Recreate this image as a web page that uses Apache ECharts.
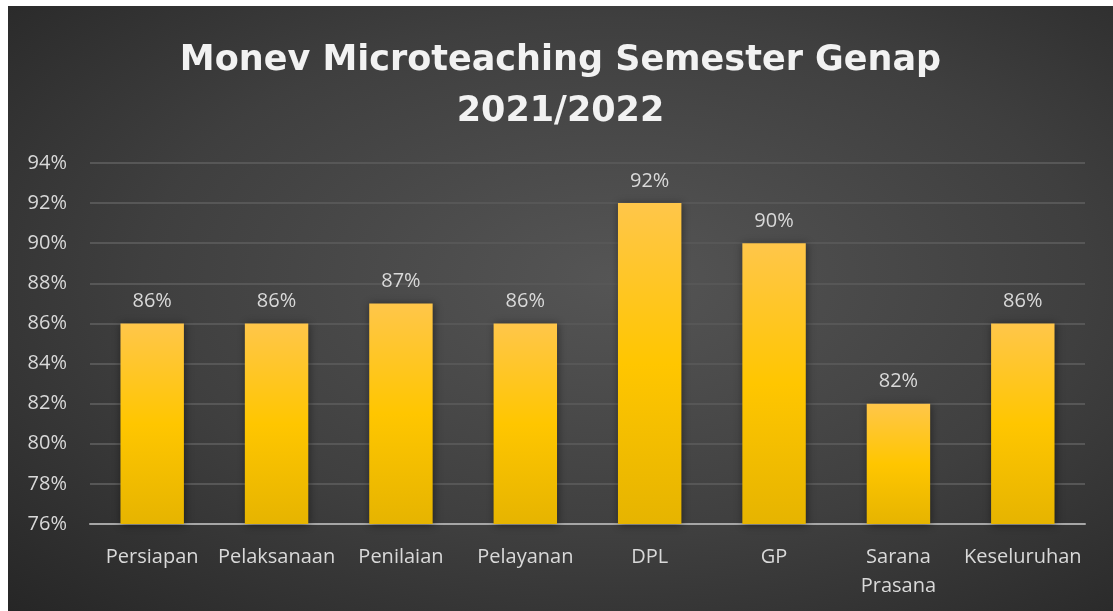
<!DOCTYPE html>
<html>
<head>
<meta charset="utf-8">
<script src="https://cdn.jsdelivr.net/npm/echarts@6/dist/echarts.min.js"></script>
<style>
  html, body { margin: 0; padding: 0; background: #ffffff; }
  #chart {
    position: absolute; left: 8px; top: 6px; width: 1105px; height: 605px;
    background: radial-gradient(ellipse at 55% 45%, #555555 0%, #3f3f3f 55%, #262626 100%);
  }
</style>
</head>
<body>
<div id="chart"></div>
<script>
  // data
  var categories = ['Persiapan', 'Pelaksanaan', 'Penilaian', 'Pelayanan', 'DPL', 'GP', 'Sarana\nPrasana', 'Keseluruhan'];
  var values = [86, 86, 87, 86, 92, 90, 82, 86];
  var yMin = 76, yMax = 94, yStep = 2;

  var chart = echarts.init(document.getElementById('chart'));
  var option = {
    backgroundColor: 'transparent',
    title: {
      text: 'Monev Microteaching Semester Genap\n2021/2022',
      left: 'center',
      top: 24,
      textStyle: {
        color: '#f2f2f2',
        fontFamily: 'DejaVu Sans',
        fontWeight: 'bold',
        fontSize: 35,
        lineHeight: 51
      }
    },
    grid: { left: 82, right: 28, top: 157, bottom: 87 },
    xAxis: {
      type: 'category',
      data: categories,
      axisTick: { show: false },
      axisLine: { lineStyle: { color: '#a6a6a6', width: 2 } },
      axisLabel: {
        margin: 19,
        color: '#d9d9d9',
        fontFamily: 'Open Sans',
        fontSize: 20,
        lineHeight: 29,
        interval: 0
      }
    },
    yAxis: {
      type: 'value',
      min: yMin,
      max: yMax,
      interval: yStep,
      axisLine: { show: false },
      axisTick: { show: false },
      axisLabel: {
        formatter: '{value}%',
        margin: 23,
        color: '#d9d9d9',
        fontFamily: 'Open Sans',
        fontSize: 20
      },
      splitLine: { lineStyle: { color: '#575757', width: 2 } }
    },
    series: [{
      type: 'bar',
      data: values,
      barWidth: '51%',
      itemStyle: {
        color: new echarts.graphic.LinearGradient(0, 0, 0, 1, [
          { offset: 0, color: '#ffc64a' },
          { offset: 0.5, color: '#ffc600' },
          { offset: 1, color: '#e6b400' }
        ]),
        shadowColor: 'rgba(0,0,0,0.45)',
        shadowBlur: 8,
        shadowOffsetX: 1,
        shadowOffsetY: 1
      },
      label: {
        show: true,
        position: 'top',
        distance: 12,
        formatter: '{c}%',
        color: '#d9d9d9',
        fontFamily: 'Open Sans',
        fontSize: 20
      }
    }]
  };
  chart.setOption(option);
</script>
</body>
</html>
